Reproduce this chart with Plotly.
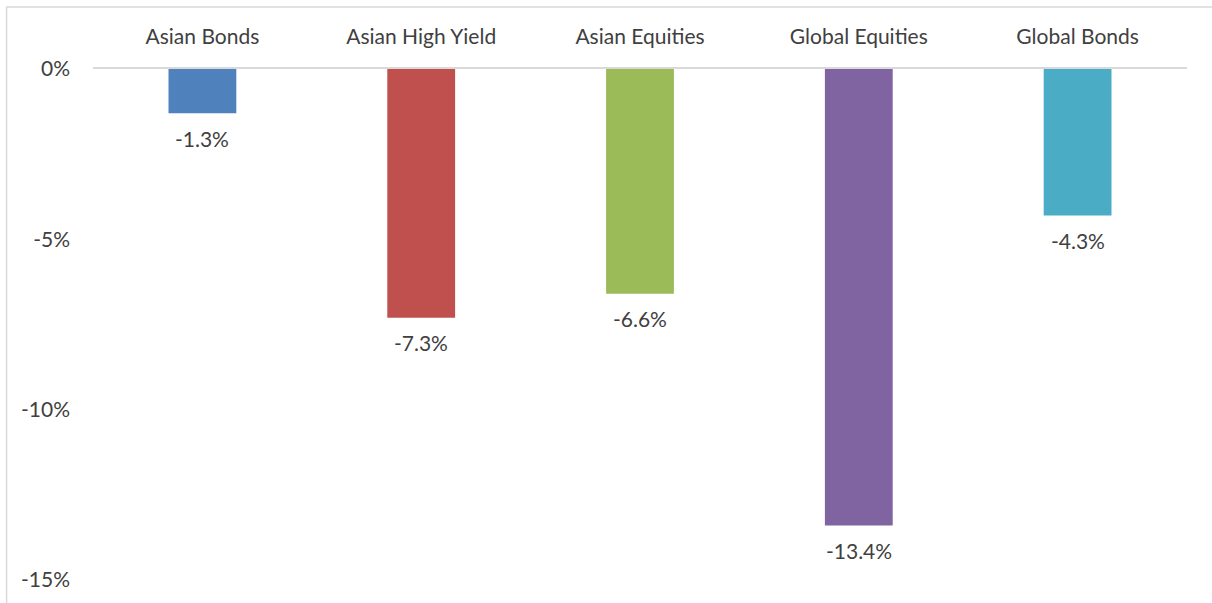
import plotly.graph_objects as go

categories = ["Asian Bonds", "Asian High Yield", "Asian Equities", "Global Equities", "Global Bonds"]
values = [-1.3, -7.3, -6.6, -13.4, -4.3]
colors = ["#4F81BD", "#C0504D", "#9BBB59", "#8064A2", "#4BACC6"]
y_ticks = [0, -5, -10, -15]
y_tick_labels = ["0%", "-5%", "-10%", "-15%"]

W, H = 1212, 603
L, R, T, B = 92.5, 24.5, 69, 23
pw, ph = W - L - R, H - T - B
FONT = "Lato"
FS = 21
TXT = "#404040"

fig = go.Figure(go.Bar(
    x=categories, y=values,
    marker=dict(color=colors, line=dict(width=0)),
    width=0.31,
    hoverinfo="x+y",
))

for c, v in zip(categories, values):
    fig.add_annotation(x=c, y=v, text=f"{v:.1f}%", showarrow=False,
                       xanchor="center", yanchor="middle", yshift=-25,
                       font=dict(family=FONT, size=FS, color=TXT))

fig.update_layout(
    width=W, height=H,
    margin=dict(l=L, r=R, t=T, b=B, autoexpand=False),
    paper_bgcolor="white", plot_bgcolor="white",
    showlegend=False,
    font=dict(family=FONT, size=FS, color=TXT),
    xaxis=dict(side="top", showline=True, linecolor="#d9d9d9", linewidth=1.5,
               ticks="", ticklabelstandoff=15, showgrid=False,
               tickfont=dict(family=FONT, size=FS, color=TXT)),
    yaxis=dict(range=[-15, 0], tickvals=y_ticks, ticktext=y_tick_labels,
               showgrid=False, zeroline=False, showline=False, ticks="",
               ticklabelstandoff=22,
               tickfont=dict(family=FONT, size=FS, color=TXT)),
    shapes=[dict(type="rect", xref="paper", yref="paper",
                 x0=(6 - L) / pw, x1=(W + 5 - L) / pw,
                 y0=-(H + 5 - T - ph) / ph, y1=1 + (T - 7) / ph,
                 line=dict(color="#d9d9d9", width=1.5), layer="below")],
)

fig.write_html("out.html", config={"displayModeBar": False},
               post_script="document.body.style.margin='0';document.body.style.overflow='hidden';")
